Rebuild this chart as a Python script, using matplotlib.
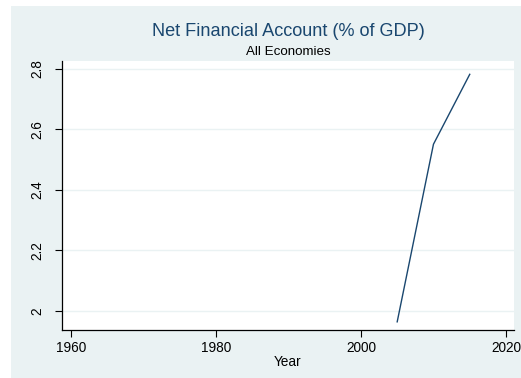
import matplotlib.pyplot as plt
from matplotlib.patches import Rectangle

plt.rcParams['font.family'] = ['Liberation Sans', 'DejaVu Sans']

years = [2005, 2010, 2015]
net_fin_account = [1.964, 2.551, 2.782]
xticks = [1960, 1980, 2000, 2020]
yticks = [2, 2.2, 2.4, 2.6, 2.8]
ytick_labels = ['2', '2.2', '2.4', '2.6', '2.8']

bg = '#eaf2f3'
navy = '#1a476f'

W, H = 521, 378
fig = plt.figure(figsize=(W / 100, H / 100), dpi=100)
fig.patch.set_facecolor('white')
# graph region, with a thin white margin on the top and left
fig.patches.append(Rectangle((11 / W, -0.02), 1 - 11 / W + 0.02, 1 - 6 / H + 0.02,
                             transform=fig.transFigure, facecolor=bg,
                             edgecolor='none', zorder=-10))

ax = fig.add_axes([62 / W, 1 - 330 / H, (514 - 62) / W, (330 - 61) / H])
ax.set_facecolor('white')
ax.plot(years, net_fin_account, color=navy, lw=1.0)

ax.set_xlim(1958.8, 2021.1)
ax.set_ylim(1.937, 2.826)
ax.set_xticks(xticks)
ax.set_yticks(yticks)
ax.set_yticklabels(ytick_labels, rotation=90, va='center')
ax.tick_params(axis='both', direction='out', length=5, width=0.8,
               labelsize=9.8, color='black')
ax.tick_params(axis='x', pad=3)
ax.tick_params(axis='y', pad=8)
ax.grid(axis='y', color=bg, lw=1.0)
ax.set_axisbelow(True)
for s in ['top', 'right']:
    ax.spines[s].set_visible(False)
for s in ['left', 'bottom']:
    ax.spines[s].set_linewidth(0.9)

ax.set_xlabel('Year', fontsize=9.8, labelpad=0)
fig.text(288 / W, 1 - 32 / H, 'Net Financial Account (% of GDP)',
         ha='center', va='center', fontsize=13.1, color=navy)
fig.text(288 / W, 1 - 52 / H, 'All Economies', ha='center', va='center',
         fontsize=9.6, color='black')

fig.savefig('out.png', dpi=100)
